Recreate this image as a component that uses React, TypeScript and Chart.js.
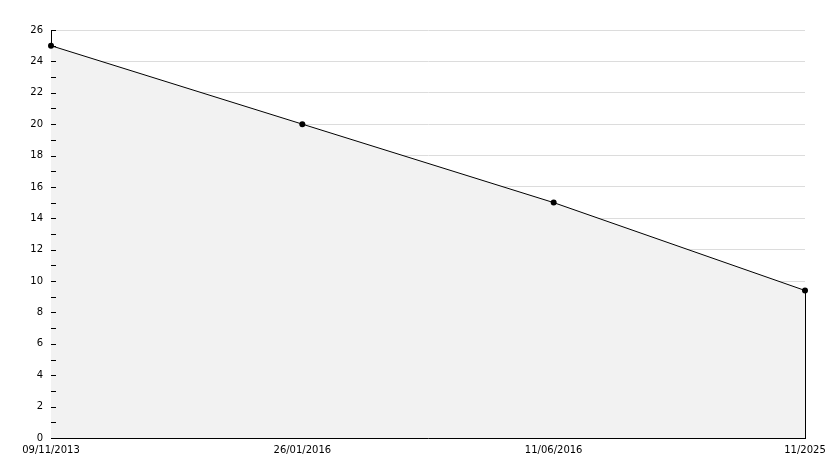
import React, { useEffect, useRef } from "react";
import { Chart, registerables } from "chart.js";

Chart.register(...registerables);

const categories = ["09/11/2013", "26/01/2016", "11/06/2016", "11/2025"];
const values = [25, 20, 15, 9.4];
const yMin = 0;
const yMax = 26;

const innerTicks = {
  id: "innerTicks",
  afterDatasetsDraw(chart: any) {
    const { ctx, scales, chartArea } = chart;
    const y = scales.y;
    const x = scales.x;
    ctx.save();
    ctx.strokeStyle = "#000";
    ctx.lineWidth = 1;
    ctx.beginPath();
    for (let v = yMin; v <= yMax; v++) {
      const py = Math.round(y.getPixelForValue(v)) + 0.5;
      ctx.moveTo(chartArea.left, py);
      ctx.lineTo(chartArea.left + 5, py);
    }
    // right closing edge of the area
    const lastIdx = values.length - 1;
    const px = Math.round(x.getPixelForValue(lastIdx)) + 0.5;
    ctx.moveTo(px, y.getPixelForValue(values[lastIdx]));
    ctx.lineTo(px, y.getPixelForValue(0));
    ctx.stroke();
    ctx.restore();
  },
};

export default function App() {
  const ref = useRef<HTMLCanvasElement | null>(null);
  useEffect(() => {
    if (!ref.current) return;
    const chart = new Chart(ref.current, {
      type: "line",
      data: {
        labels: categories,
        datasets: [
          {
            data: values,
            borderColor: "#000",
            borderWidth: 1,
            backgroundColor: "#f2f2f2",
            fill: "origin",
            tension: 0,
            pointRadius: 3,
            pointBackgroundColor: "#000",
            pointBorderColor: "#000",
            pointBorderWidth: 0,
          },
        ],
      },
      options: {
        animation: false,
        responsive: true,
        maintainAspectRatio: false,
        layout: { padding: { top: 30, right: 29, left: 0, bottom: 0 } },
        plugins: { legend: { display: false }, tooltip: { enabled: false } },
        scales: {
          x: {
            type: "category",
            offset: false,
            grid: { display: false, drawTicks: false },
            border: { display: true, color: "#000", width: 1 },
            ticks: {
              color: "#000",
              font: { family: "DejaVu Sans", size: 10 },
              padding: 6,
              maxRotation: 0,
              autoSkip: false,
            },
            afterFit(s: any) {
              s.height = 30;
            },
          },
          y: {
            min: yMin,
            max: yMax,
            grid: {
              drawTicks: false,
              color: (c: any) => (c.tick && c.tick.value % 2 === 0 ? "#dcdcdc" : "rgba(0,0,0,0)"),
            },
            border: { display: true, color: "#000", width: 1 },
            ticks: {
              stepSize: 1,
              color: "#000",
              font: { family: "DejaVu Sans", size: 10 },
              padding: 8,
              callback: (v: any) => (Number(v) % 2 === 0 ? String(v) : ""),
            },
            afterFit(s: any) {
              s.width = 51;
            },
          },
        },
      },
      plugins: [innerTicks],
    });
    return () => chart.destroy();
  }, []);
  return (
    <div style={{ position: "fixed", left: 0, top: 0, width: 834, height: 468, background: "#fff" }}>
      <canvas ref={ref} />
    </div>
  );
}
